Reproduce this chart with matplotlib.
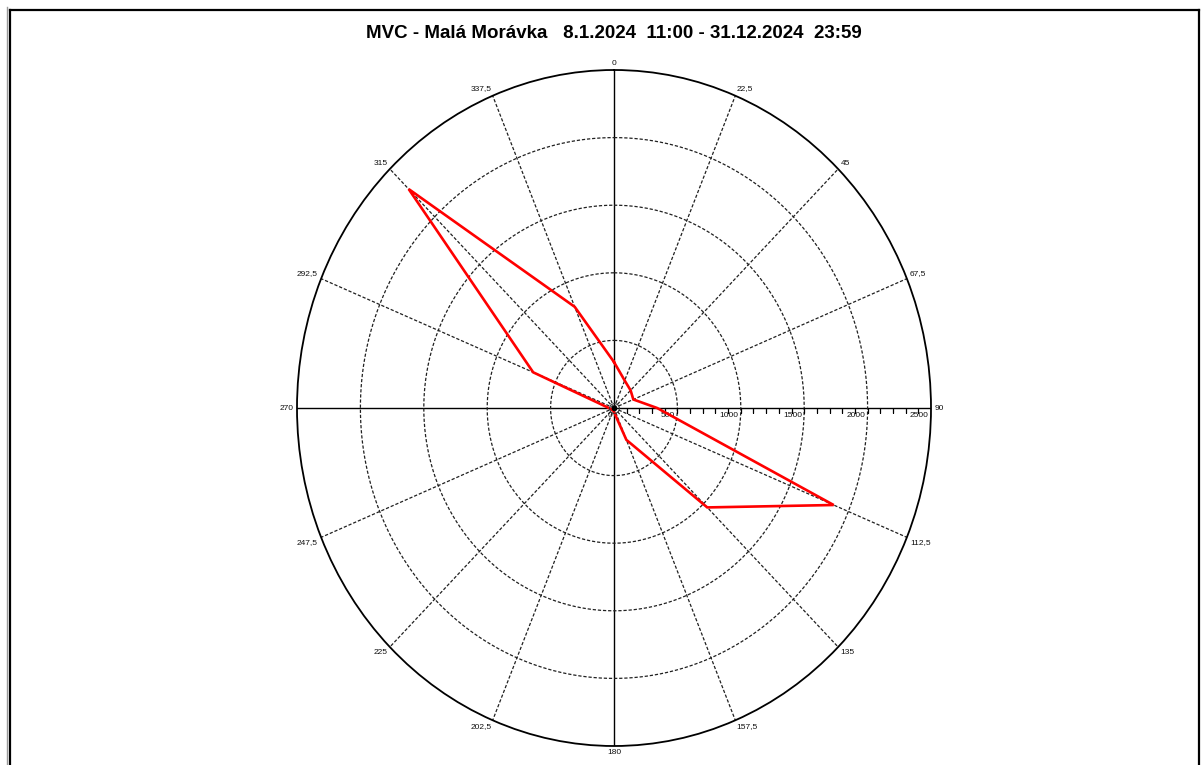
import numpy as np
import matplotlib
matplotlib.use("Agg")
import matplotlib.pyplot as plt
from matplotlib.lines import Line2D

# Wind directions (degrees, clockwise from north) and counts per direction
directions = [0, 22.5, 45, 67.5, 90, 112.5, 135, 157.5,
              180, 202.5, 225, 247.5, 270, 292.5, 315, 337.5]
counts = [340, 220, 185, 165, 340, 1875, 1040, 255,
          30, 20, 20, 25, 40, 690, 2290, 810]

direction_labels = ["0", "22,5", "45", "67,5", "90", "112,5", "135", "157,5",
                    "180", "202,5", "225", "247,5", "270", "292,5", "315", "337,5"]
ring_values = [500, 1000, 1500, 2000]
radial_labels = [0, 500, 1000, 1500, 2000, 2500]
r_max = 2500
minor_step = 100

title = "MVC - Malá Morávka   8.1.2024  11:00 - 31.12.2024  23:59"

plt.rcParams['font.family'] = ['Liberation Sans', 'DejaVu Sans']

W, H = 1203, 765
fig = plt.figure(figsize=(W / 100, H / 100), dpi=100)
fig.patch.set_facecolor('white')

# polar axes stretched to the plotting box (ellipse, not circle)
cx, cy, rx, ry = 614, 408, 317, 338
ax = fig.add_axes([(cx - rx) / W, (H - cy - ry) / H, 2 * rx / W, 2 * ry / H],
                  projection='polar')
ax.set_aspect('auto')
ax.set_theta_zero_location('N')
ax.set_theta_direction(-1)
ax.set_ylim(0, r_max)
ax.grid(False)
ax.set_xticks([])
ax.set_yticks([])
ax.spines['polar'].set_linewidth(1.3)
ax.spines['polar'].set_color('black')

dash = (0, (2.6, 1.5))
grid_color = '#202020'

# spokes every 22.5 degrees: solid on the main axes, dashed elsewhere
for d in directions:
    t = np.deg2rad(d)
    if d % 90 == 0:
        ax.plot([t, t], [0, r_max], color='black', lw=1.0, zorder=2)
    else:
        ax.plot([t, t], [0, r_max], color=grid_color, lw=0.9, ls=dash, zorder=2)

# concentric dashed rings
theta_fine = np.linspace(0, 2 * np.pi, 721)
for r in ring_values:
    ax.plot(theta_fine, np.full_like(theta_fine, r), color=grid_color,
            lw=0.9, ls=dash, zorder=2)

# minor ticks along the east axis
tick_r = np.arange(minor_step, r_max, minor_step)
ax.plot(np.full(len(tick_r), np.pi / 2), tick_r, linestyle='none',
        marker=3, markersize=3.5, markeredgewidth=0.9, color='black', zorder=3)

# radial scale labels below the east axis
for v in radial_labels:
    ax.annotate(str(v), xy=(np.pi / 2, v), xytext=(-1.5, -3),
                textcoords='offset points', ha='right', va='top',
                fontsize=6, color='#111111', annotation_clip=False)

# direction labels just outside the outer circle
for d, lab in zip(directions, direction_labels):
    t = np.deg2rad(d)
    s, c = np.sin(t), np.cos(t)
    ha = 'left' if s > 0.1 else ('right' if s < -0.1 else 'center')
    va = 'bottom' if c > 0.1 else ('top' if c < -0.1 else 'center')
    ax.annotate(lab, xy=(t, r_max), xytext=(2.5 * s, 2.5 * c),
                textcoords='offset points', ha=ha, va=va,
                fontsize=6, color='#111111', annotation_clip=False)

# wind rose polygon
theta_poly = np.deg2rad(directions + [directions[0]])
r_poly = counts + [counts[0]]
ax.plot(theta_poly, r_poly, color='#ff0000', lw=1.9, zorder=5,
        solid_joinstyle='miter')

ax.plot([0], [0], 'o', color='black', markersize=3, zorder=6)
ax.plot([0], [0], 'o', markerfacecolor='none', markeredgecolor='#333333',
        markersize=7, markeredgewidth=0.7, zorder=6)

fig.text(cx / W, 1 - 33 / H, title, ha='center', va='center',
         fontsize=13.5, fontweight='bold', color='black')

# page frame
def fig_line(x0, y0, x1, y1, **kw):
    fig.add_artist(Line2D([x0 / W, x1 / W], [1 - y0 / H, 1 - y1 / H],
                          transform=fig.transFigure, **kw))

fig_line(7, 7, 7, H + 5, color='#9a9a9a', lw=1.0)
fig_line(10, 9.5, 10, H + 5, color='black', lw=1.6)
fig_line(10, 9.5, 1199, 9.5, color='black', lw=1.6)
fig_line(1199, 9.5, 1199, H + 5, color='black', lw=1.6)

fig.savefig('out.png', dpi=100, facecolor='white')
